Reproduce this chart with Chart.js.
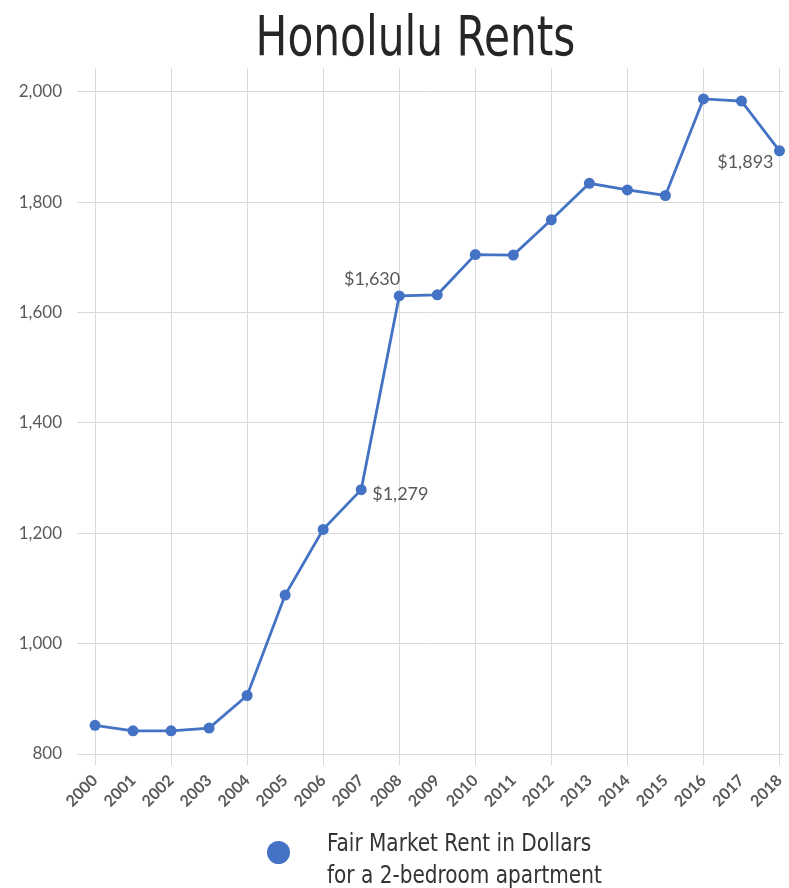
<!DOCTYPE html>
<html>
<head>
<meta charset="utf-8">
<script src="https://cdn.jsdelivr.net/npm/chart.js@4.4.0/dist/chart.umd.min.js"></script>
<style>
  html, body { margin:0; padding:0; background:#fff; overflow:hidden; }
  #wrap { position:relative; width:789px; height:888px; }
  canvas { position:absolute; left:0; top:0; }
  #title { position:absolute; left:0; width:831px; top:4px; text-align:center;
    font-family:"Liberation Sans Narrow","DejaVu Sans Condensed","Roboto Condensed",Roboto,sans-serif;
    font-size:56px; color:#262626; line-height:64px; transform:scaleX(0.84); transform-origin:415.5px 0; }
  #legend { position:absolute; left:267px; top:827px; display:flex; align-items:center; }
  #legend .dot { width:23px; height:23px; border-radius:50%; background:#4472C4; margin-right:37px; margin-top:-14px; }
  #legend .txt { font-family:"Liberation Sans Narrow","DejaVu Sans Condensed","Roboto Condensed",Roboto,sans-serif;
    font-size:24px; line-height:32px; color:#333; transform:scaleX(0.93); transform-origin:0 0; white-space:nowrap; }
</style>
</head>
<body>
<div id="wrap">
  <canvas id="c" width="789" height="888"></canvas>
  <div id="title">Honolulu Rents</div>
  <div id="legend"><div class="dot"></div><div class="txt">Fair Market Rent in Dollars<br>for a 2-bedroom apartment</div></div>
</div>
<script>
const years = [2000,2001,2002,2003,2004,2005,2006,2007,2008,2009,2010,2011,2012,2013,2014,2015,2016,2017,2018];
const rents = [852,842,842,847,906,1088,1207,1279,1630,1632,1705,1704,1768,1834,1822,1812,1987,1983,1893];
const yTicks = [800,1000,1200,1400,1600,1800,2000];
const labeledYears = [2007,2008,2018];
const seriesName = "Fair Market Rent in Dollars for a 2-bedroom apartment";

const BLUE = '#4472C4';
const GRID = '#d9d9d9';
const TXT = '#595959';
const FONT = 'Lato, "Open Sans", sans-serif';

const labelPlugin = {
  id: 'pointLabels',
  afterDatasetsDraw(chart) {
    const meta = chart.getDatasetMeta(0);
    const c = chart.ctx;
    c.save();
    c.font = '18px ' + FONT;
    c.fillStyle = TXT;
    c.textBaseline = 'middle';
    labeledYears.forEach(y => {
      const i = years.indexOf(y);
      const pt = meta.data[i];
      const txt = '$' + rents[i].toLocaleString('en-US');
      if (y === 2007) { c.textAlign = 'left'; c.fillText(txt, pt.x + 11, pt.y + 5); }
      else if (y === 2008) { c.textAlign = 'right'; c.fillText(txt, pt.x + 1, pt.y - 17); }
      else { c.textAlign = 'right'; c.fillText(txt, pt.x - 6, pt.y + 11); }
    });
    c.restore();
  }
};

new Chart(document.getElementById('c'), {
  type: 'line',
  data: {
    datasets: [{
      label: seriesName,
      data: years.map((y, i) => ({ x: y, y: rents[i] })),
      borderColor: BLUE,
      backgroundColor: BLUE,
      borderWidth: 2.8,
      pointRadius: 5.5,
      pointBackgroundColor: BLUE,
      pointBorderWidth: 0,
      tension: 0,
      clip: false
    }]
  },
  options: {
    responsive: false,
    animation: false,
    layout: { padding: { top: 68, left: 0, right: 0, bottom: 0 } },
    plugins: { legend: { display: false }, title: { display: false }, tooltip: { enabled: false } },
    scales: {
      x: {
        type: 'linear',
        min: 1999.526,
        max: 2018.105,
        afterFit(s) { s.height = 134; s.paddingLeft = 0; s.paddingRight = 0; },
        border: { display: false },
        grid: {
          color: ctx => (ctx.tick && ctx.tick.value % 2 === 0) ? GRID : 'rgba(0,0,0,0)',
          lineWidth: 1,
          tickLength: 11,
          drawOnChartArea: true
        },
        ticks: {
          stepSize: 1,
          includeBounds: false,
          autoSkip: false,
          maxRotation: 45,
          minRotation: 45,
          padding: 6,
          color: TXT,
          font: { family: FONT, size: 16, weight: 'bold' },
          callback: v => String(v)
        }
      },
      y: {
        min: 800,
        max: 2043,
        afterFit(s) { s.width = 77; s.paddingTop = 0; s.paddingBottom = 0; },
        afterBuildTicks(s) { s.ticks = yTicks.map(v => ({ value: v })); },
        border: { display: false },
        grid: { color: GRID, lineWidth: 1, drawTicks: false },
        ticks: {
          padding: 15,
          color: TXT,
          font: { family: FONT, size: 17 },
          callback: v => v.toLocaleString('en-US')
        }
      }
    }
  },
  plugins: [labelPlugin]
});
</script>
</body>
</html>
